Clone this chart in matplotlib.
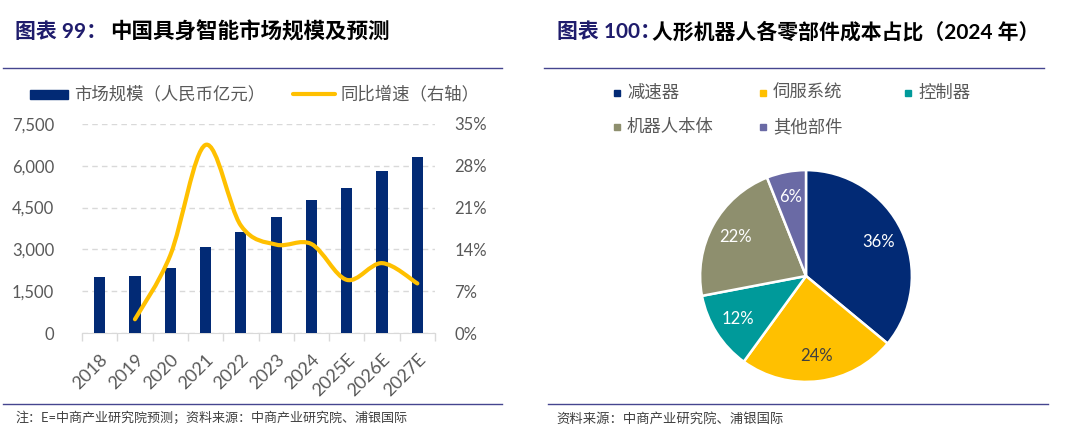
import matplotlib
matplotlib.use('Agg')
import matplotlib.pyplot as plt
import matplotlib.patches as mpatches
from matplotlib.lines import Line2D
from matplotlib.path import Path

plt.rcParams['font.family'] = ['Lato', 'Noto Sans CJK SC', 'DejaVu Sans']

# ── Data ──────────────────────────────────────────────────────────────────
years = ['2018', '2019', '2020', '2021', '2022', '2023', '2024',
         '2025E', '2026E', '2027E']
market_size = [2010, 2060, 2330, 3070, 3630, 4170, 4790, 5220, 5830, 6320]
growth_pct = [None, 2.3, 13.0, 31.5, 18.0, 14.8, 14.9, 8.9, 11.7, 8.3]

parts = ['减速器', '伺服系统', '控制器', '机器人本体', '其他部件']
part_share = [36, 24, 12, 22, 6]

# ── Styles ────────────────────────────────────────────────────────────────
NAVY = '#022A75'
YELLOW = '#FFC000'
PIE_COLORS = [NAVY, YELLOW, '#009A9A', '#8E8F6E', '#6A6AA5']
TITLE_C = '#1F1C6C'
RULE_C = '#45458F'
TXT_C = '#595959'
GRID_C = '#D9D9D9'

W, H = 1080, 432
fig = plt.figure(figsize=(W / 100, H / 100), dpi=100)


def fx(px):
    return px / W


def fy(py):
    return 1 - py / H


def ftext(px, py, s, **kw):
    kw.setdefault('va', 'center')
    kw.setdefault('ha', 'left')
    fig.text(fx(px), fy(py), s, **kw)


def rule(x1, x2, py):
    fig.add_artist(Line2D([fx(x1), fx(x2)], [fy(py), fy(py)],
                          color=RULE_C, lw=1.0, transform=fig.transFigure))


# ── Titles, rules, footnotes ──────────────────────────────────────────────
ftext(15, 32, '图表 99：', fontsize=15, fontweight='bold', color=TITLE_C)
ftext(110, 32, '中国具身智能市场规模及预测', fontsize=15.5, fontweight='bold', color='black')
ftext(557, 32, '图表 100：', fontsize=15, fontweight='bold', color=TITLE_C)
ftext(652, 32, '人形机器人各零部件成本占比（2024 年）', fontsize=15, fontweight='bold',
      color='black')

rule(3, 502, 68)
rule(544, 1044, 68)
rule(3, 502, 404)
rule(548, 1048, 404)

ftext(15, 418, '注：E=中商产业研究院预测；资料来源：中商产业研究院、浦银国际',
      fontsize=9.4, color='#404040')
ftext(556, 418, '资料来源：中商产业研究院、浦银国际', fontsize=9.6, color='#404040')

# ── Left chart: bars + smoothed growth line ───────────────────────────────
ax1 = fig.add_axes([fx(82), fy(333), fx(435) - fx(82), fy(124) - fy(333)])
x = list(range(len(years)))
ax1.bar(x, market_size, width=0.32, color=NAVY, zorder=3)
ax1.set_xlim(-0.5, len(years) - 0.5)
ax1.set_ylim(0, 7500)
ax1.set_yticks(range(0, 7501, 1500))
ax1.set_yticklabels([f'{v:,}' for v in range(0, 7501, 1500)])
ax1.yaxis.grid(True, color=GRID_C, ls=(0, (4, 3)), lw=1.0, zorder=0)
ax1.set_axisbelow(True)
for side in ('left', 'right', 'top'):
    ax1.spines[side].set_visible(False)
ax1.spines['bottom'].set_color(GRID_C)
ax1.tick_params(axis='y', length=0, pad=20, labelsize=12, labelcolor=TXT_C)
ax1.set_xticks(x)
ax1.set_xticklabels(years, rotation=45, ha='right', va='top',
                    rotation_mode='anchor')
ax1.tick_params(axis='x', which='major', length=0, pad=13, labelsize=13,
                labelcolor=TXT_C)
ax1.set_xticks([i - 0.5 for i in range(len(years) + 1)], minor=True)
ax1.tick_params(axis='x', which='minor', length=6, color=GRID_C, width=1)

ax2 = ax1.twinx()
ax2.set_ylim(0, 35)
ax2.set_yticks(range(0, 36, 7))
ax2.set_yticklabels([f'{v}%' for v in range(0, 36, 7)])
for side in ('left', 'right', 'top', 'bottom'):
    ax2.spines[side].set_visible(False)
ax2.tick_params(axis='y', length=0, pad=14, labelsize=12, labelcolor=TXT_C)

# Excel-style smooth line: cubic Bezier through the points (Catmull-Rom)
pts = [(i, g) for i, g in enumerate(growth_pct) if g is not None]
verts = [pts[0]]
codes = [Path.MOVETO]
for k in range(len(pts) - 1):
    p0 = pts[max(k - 1, 0)]
    p1 = pts[k]
    p2 = pts[k + 1]
    p3 = pts[min(k + 2, len(pts) - 1)]
    c1 = (p1[0] + (p2[0] - p0[0]) / 6, p1[1] + (p2[1] - p0[1]) / 6)
    c2 = (p2[0] - (p3[0] - p1[0]) / 6, p2[1] - (p3[1] - p1[1]) / 6)
    verts += [c1, c2, p2]
    codes += [Path.CURVE4] * 3
ax2.add_patch(mpatches.PathPatch(Path(verts, codes), fill=False,
                                 edgecolor=YELLOW, lw=3, capstyle='round',
                                 joinstyle='round', zorder=4))

# Left legend
fig.add_artist(mpatches.Rectangle((fx(30), fy(98.5)), fx(68) - fx(30),
                                  fy(90) - fy(98.5), color=NAVY,
                                  transform=fig.transFigure))
ftext(74, 94, '市场规模（人民币亿元）', fontsize=12.5, color=TXT_C)
fig.add_artist(Line2D([fx(293), fx(335)], [fy(94), fy(94)], color=YELLOW,
                      lw=3, solid_capstyle='round', transform=fig.transFigure))
ftext(340, 94, '同比增速（右轴）', fontsize=12.5, color=TXT_C)

# ── Right chart: pie ──────────────────────────────────────────────────────
R = 108
ax3 = fig.add_axes([fx(806 - R), fy(276 + R), 2 * R / W, 2 * R / H])
wedges, _, autotexts = ax3.pie(
    part_share, colors=PIE_COLORS, startangle=90, counterclock=False,
    autopct='%d%%', pctdistance=0.76,
    wedgeprops=dict(edgecolor='white', linewidth=1.8),
    textprops=dict(fontsize=12, color='white'))
autotexts[1].set_color('#404040')
ax3.set_xlim(-1.02, 1.02)
ax3.set_ylim(-1.02, 1.02)

# Pie legend
legend_pos = [(627, 93), (773, 93), (918, 93), (627, 127), (773, 127)]
for (lx, ly), name, col in zip(legend_pos, parts, PIE_COLORS):
    fig.add_artist(mpatches.Rectangle((fx(lx - 13), fy(ly + 3)), 6 / W, 6 / H,
                                      color=col, transform=fig.transFigure))
    ftext(lx, ly, name, fontsize=12.5, color=TXT_C)

fig.savefig('out.png', dpi=100)
